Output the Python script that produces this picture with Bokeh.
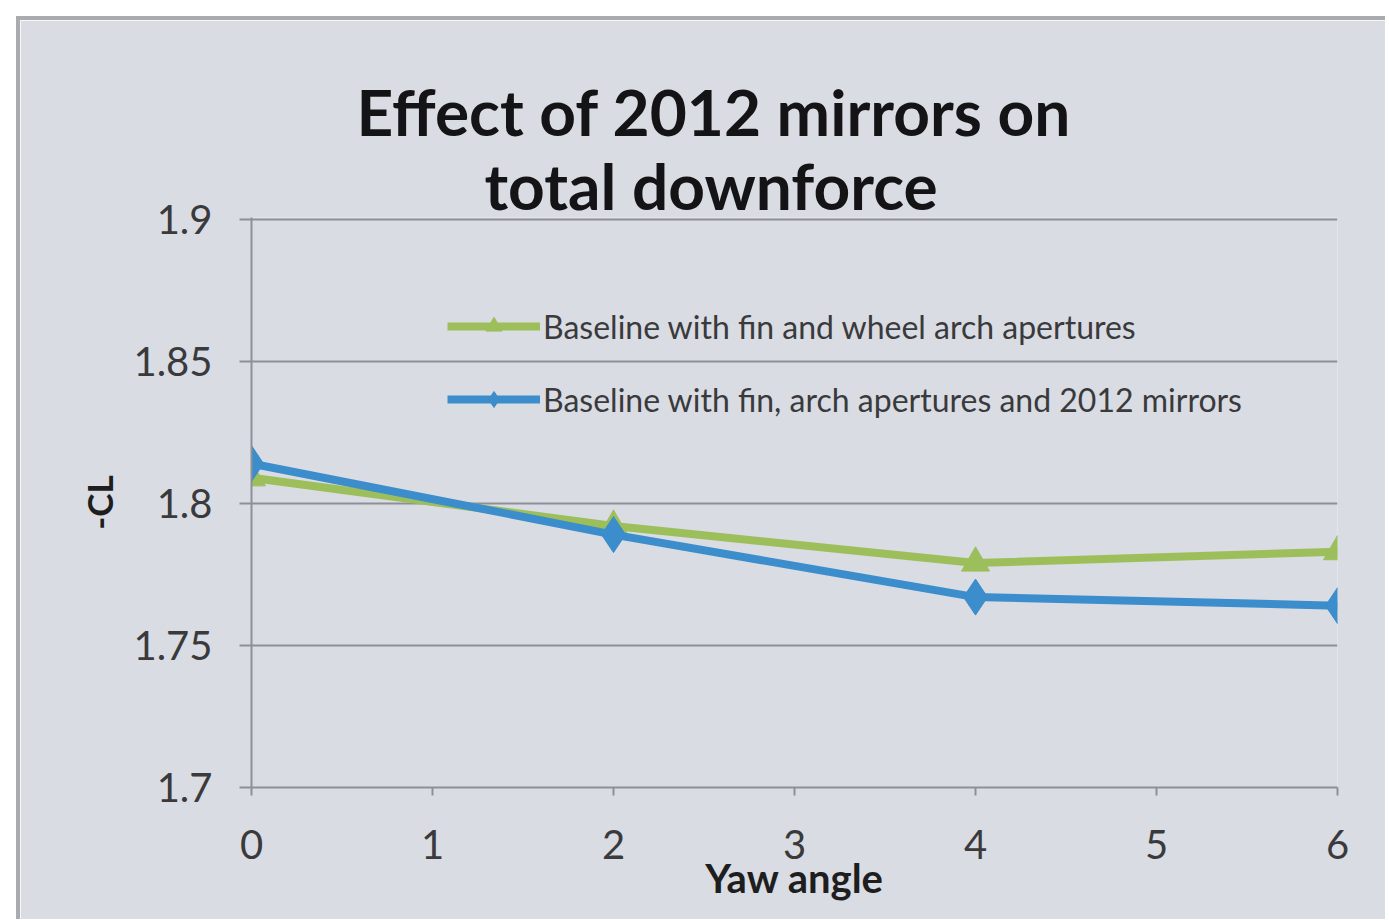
from bokeh.plotting import figure
from bokeh.models import Range1d, FixedTicker, Legend, LegendItem, Title
from bokeh.embed import file_html
from bokeh.resources import INLINE

# Yaw sweep results: lift coefficient (-CL) per configuration
yaw_angle = [0, 2, 4, 6]
cl_fin_arch = [1.809, 1.792, 1.779, 1.783]
cl_fin_arch_mirrors = [1.814, 1.789, 1.767, 1.764]

series_names = [
    "Baseline with fin and wheel arch apertures",
    "Baseline with fin, arch apertures and 2012 mirrors",
]
title_lines = ["Effect of 2012 mirrors on", "total downforce"]

x_ticks = [0, 1, 2, 3, 4, 5, 6]
y_ticks = [1.7, 1.75, 1.8, 1.85, 1.9]
y_tick_labels = ["1.7", "1.75", "1.8", "1.85", "1.9"]

BG = "#d9dce3"
GRID = "#8d9096"
TEXT = "#3a3a3c"
GREEN = "#9cbf5b"
BLUE = "#3b8dcb"
FONT = "Lato"

p = figure(
    width=1369, height=903,
    output_backend="svg", toolbar_location=None,
    x_range=Range1d(0, 6), y_range=Range1d(1.7, 1.9006),
    background_fill_color=BG, border_fill_color=BG,
    min_border_left=231, min_border_top=197,
    min_border_right=52, min_border_bottom=136,
    margin=(16, 0, 0, 16),
)
p.styles = {"border-top": "4px solid #aaabae", "border-left": "4px solid #aaabae"}
p.outline_line_color = None

# grid
p.xgrid.visible = False
p.ygrid.ticker = FixedTicker(ticks=y_ticks)
p.ygrid.grid_line_color = GRID
p.ygrid.grid_line_width = 2

# axes
for ax in (p.xaxis[0], p.yaxis[0]):
    ax.axis_line_color = GRID
    ax.axis_line_width = 2
    ax.major_tick_line_color = GRID
    ax.major_tick_line_width = 2
    ax.major_tick_in = 0
    ax.minor_tick_line_color = None
    ax.major_label_text_font = FONT
    ax.major_label_text_font_size = "40px"
    ax.major_label_text_color = TEXT
    ax.axis_label_text_font = FONT
    ax.axis_label_text_font_style = "bold"
    ax.axis_label_text_color = "#1e1e20"

p.xaxis.ticker = FixedTicker(ticks=x_ticks)
p.xaxis.major_tick_out = 8
p.xaxis.major_label_standoff = 34
p.xaxis.axis_label = "Yaw angle"
p.xaxis.axis_label_text_font_size = "40px"
p.xaxis.axis_label_standoff = -8

p.yaxis.ticker = FixedTicker(ticks=y_ticks)
p.yaxis.major_label_overrides = {t: s for t, s in zip(y_ticks, y_tick_labels)}
p.yaxis.major_tick_out = 12
p.yaxis.major_label_standoff = 27
p.yaxis.axis_label = "-CL"
p.yaxis.axis_label_text_font_size = "35px"
p.yaxis.axis_label_standoff = 10

# series
g_line = p.line(yaw_angle, cl_fin_arch, line_color=GREEN, line_width=8)
g_mark = p.scatter(yaw_angle, cl_fin_arch, marker="triangle", size=28,
                   fill_color=GREEN, line_color=GREEN)
b_line = p.line(yaw_angle, cl_fin_arch_mirrors, line_color=BLUE, line_width=8)
b_mark = p.scatter(yaw_angle, cl_fin_arch_mirrors, marker="diamond", size=36,
                   fill_color=BLUE, line_color=BLUE)

legend = Legend(
    items=[
        LegendItem(label=series_names[0], renderers=[g_line, g_mark]),
        LegendItem(label=series_names[1], renderers=[b_line, b_mark]),
    ],
    location=(196, 368),
    orientation="vertical",
    background_fill_alpha=0, border_line_color=None,
    padding=0, margin=0, spacing=33,
    glyph_width=93, glyph_height=40, label_height=40,
    label_standoff=3,
    label_text_font=FONT, label_text_font_size="32px", label_text_color=TEXT,
)
p.add_layout(legend, "center")

# two-line chart title; the later Title is stacked further from the frame
for text, shift, gap in [(title_lines[1], 233, -12), (title_lines[0], 105, 2)]:
    p.add_layout(Title(
        text=text, align="left", offset=shift, standoff=gap,
        text_font=FONT, text_font_style="bold", text_font_size="64px",
        text_color="#141416",
    ), "above")

open("out.html", "w").write(file_html(p, INLINE))
